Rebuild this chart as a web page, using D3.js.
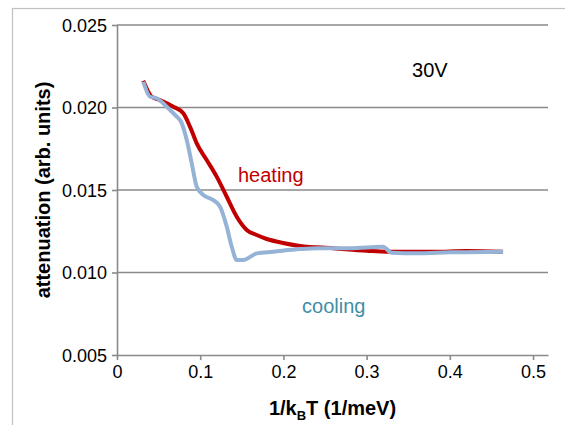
<!DOCTYPE html>
<html>
<head>
<meta charset="utf-8">
<script src="https://cdn.jsdelivr.net/npm/d3@7"></script>
<style>
  body { margin: 0; background: #fff; }
  text { font-family: "Liberation Sans", Arial, sans-serif; }
</style>
</head>
<body>
<div id="chart"></div>
<script>
// heating run (red)
var heat_x = [0.0316, 0.0417, 0.0517, 0.0677, 0.0797, 0.0877, 0.0958, 0.1078, 0.1198, 0.1319,
              0.1439, 0.1559, 0.1679, 0.180, 0.1995, 0.220, 0.2596, 0.300, 0.324, 0.380, 0.420, 0.464];
var heat_y = [0.02162, 0.02065, 0.02045, 0.02005, 0.01965, 0.01884, 0.01783, 0.01682, 0.01581, 0.01459,
              0.01338, 0.01258, 0.01227, 0.01203, 0.01179, 0.01161, 0.01147, 0.01132, 0.01126, 0.01126, 0.0113, 0.01126];

// cooling run (blue)
var cool_x = [0.0316, 0.0397, 0.0477, 0.0597, 0.0697, 0.0778, 0.0838, 0.0898, 0.0958, 0.1037,
              0.1157, 0.1238, 0.1319, 0.1379, 0.1439, 0.1518, 0.1679, 0.1879, 0.220, 0.240,
              0.280, 0.3197, 0.330, 0.360, 0.400, 0.464];
var cool_y = [0.02156, 0.02065, 0.02056, 0.02005, 0.01955, 0.01904, 0.01803, 0.01662, 0.0152, 0.0147,
              0.01439, 0.01399, 0.01278, 0.01156, 0.01076, 0.01076, 0.01116, 0.01126, 0.01142, 0.01147,
              0.01147, 0.01156, 0.0112, 0.01116, 0.01122, 0.01126];

var x_ticks = [0, 0.1, 0.2, 0.3, 0.4, 0.5];
var y_ticks = [0.005, 0.010, 0.015, 0.020, 0.025];

var chart_width = 565;
var chart_height = 425;

var svg = d3.select('#chart')
    .append('svg')
    .attr('width', chart_width)
    .attr('height', chart_height);

// outer frame
svg.append('rect')
    .attr('x', 12.5).attr('y', 8.5)
    .attr('width', 600).attr('height', 500)
    .attr('fill', 'none')
    .attr('stroke', '#c0c0c0')
    .attr('stroke-width', 1.2);

var x_scale = d3.scaleLinear().domain([0, 0.518]).range([117, 548]);
var y_scale = d3.scaleLinear().domain([0.005, 0.025]).range([355, 25]);

// gridlines
svg.append('g')
    .selectAll('line')
    .data(y_ticks.slice(1))
    .enter().append('line')
    .attr('x1', 117).attr('x2', 548)
    .attr('y1', function(d){ return y_scale(d); })
    .attr('y2', function(d){ return y_scale(d); })
    .attr('stroke', '#8a8a8a')
    .attr('stroke-width', 1.6);

// axes
var x_axis = d3.axisBottom(x_scale)
    .tickValues(x_ticks)
    .tickSize(5)
    .tickSizeOuter(0)
    .tickFormat(function(d){ return d === 0 ? '0' : d3.format('.1f')(d); });
var y_axis = d3.axisLeft(y_scale)
    .tickValues(y_ticks)
    .tickSize(5)
    .tickSizeOuter(0)
    .tickFormat(d3.format('.3f'));

var gx = svg.append('g')
    .attr('transform', 'translate(0,' + y_scale(0.005) + ')')
    .call(x_axis);
var gy = svg.append('g')
    .attr('transform', 'translate(' + x_scale(0) + ',0)')
    .call(y_axis);

[gx, gy].forEach(function(g){
    g.select('.domain').attr('stroke', '#8a8a8a').attr('stroke-width', 1.6);
    g.selectAll('.tick line').attr('stroke', '#8a8a8a').attr('stroke-width', 1.6);
    g.selectAll('.tick text')
        .attr('fill', '#000')
        .style('font-size', '18px')
        .style('font-family', '"Liberation Sans", Arial, sans-serif');
});
gx.selectAll('.tick text').attr('dy', '0.95em').attr('y', 6);
gy.selectAll('.tick text').attr('x', -10).attr('dy', '0.35em');

// lines
var line = d3.line()
    .x(function(d){ return x_scale(d[0]); })
    .y(function(d){ return y_scale(d[1]); })
    .curve(d3.curveMonotoneX);

svg.append('path')
    .datum(d3.zip(heat_x, heat_y))
    .attr('fill', 'none')
    .attr('stroke', '#c00000')
    .attr('stroke-width', 4)
    .attr('stroke-linejoin', 'round')
    .attr('d', line);

svg.append('path')
    .datum(d3.zip(cool_x, cool_y))
    .attr('fill', 'none')
    .attr('stroke', '#95b3d7')
    .attr('stroke-width', 4)
    .attr('stroke-linejoin', 'round')
    .attr('d', line);

// annotations
svg.append('text')
    .attr('x', x_scale(0.3546)).attr('y', y_scale(0.02185))
    .style('font-size', '20px').attr('fill', '#000')
    .text('30V');
svg.append('text')
    .attr('x', x_scale(0.1454)).attr('y', y_scale(0.01548))
    .style('font-size', '20px').attr('fill', '#c00000')
    .text('heating');
svg.append('text')
    .attr('x', x_scale(0.2224)).attr('y', y_scale(0.007545))
    .style('font-size', '20px').attr('fill', '#3f8ea8')
    .text('cooling');

// axis titles
var xt = svg.append('text')
    .attr('x', (x_scale(0) + 548) / 2).attr('y', 415)
    .attr('text-anchor', 'middle')
    .style('font-size', '20px').style('font-weight', 'bold');
xt.append('tspan').text('1/k');
xt.append('tspan').attr('dy', 5).style('font-size', '13px').text('B');
xt.append('tspan').attr('dy', -5).text('T (1/meV)');

svg.append('text')
    .attr('transform', 'translate(50,' + y_scale(0.015) + ') rotate(-90)')
    .attr('text-anchor', 'middle')
    .style('font-size', '20px').style('font-weight', 'bold')
    .text('attenuation (arb. units)');
</script>
</body>
</html>
